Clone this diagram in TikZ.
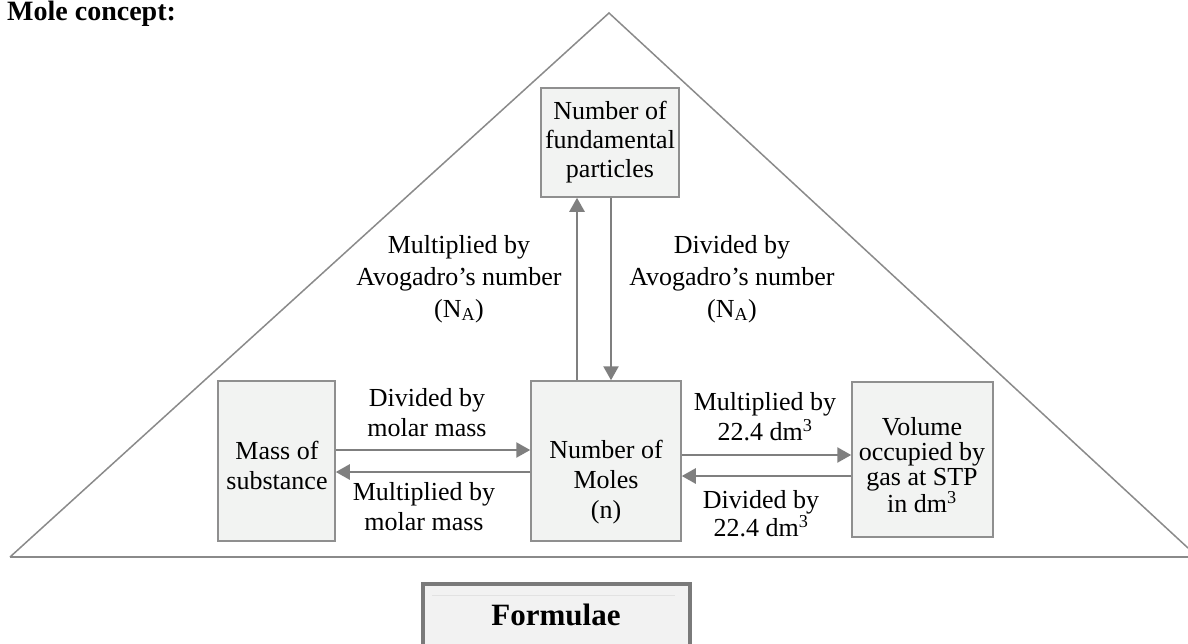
\documentclass[tikz,border=0pt]{standalone}
\usepackage{fontspec}
\setmainfont{Liberation Serif}
\usetikzlibrary{arrows.meta}
\definecolor{boxfill}{HTML}{F2F3F2}
\definecolor{boxline}{HTML}{8F8F8F}
\definecolor{arrgray}{HTML}{7F7F7F}
\definecolor{trigray}{HTML}{8A8A8A}
\definecolor{fline}{HTML}{7A7A7A}
\definecolor{ffill}{HTML}{F2F2F2}
\definecolor{finner}{HTML}{E2E2E2}
\begin{document}
\begin{tikzpicture}[x=1pt,y=-1pt,
  box/.style={draw=boxline, fill=boxfill, line width=1.5pt, inner sep=0pt},
  lbl/.style={align=center, inner sep=0pt, font=\fontsize{26}{30}\selectfont},
  arr/.style={draw=arrgray, line width=2.5pt, -{Triangle[length=14pt,width=15pt]}},
  tri/.style={draw=trigray, line width=1.5pt}]
\useasboundingbox (0,0) rectangle (1188,643);
% title
\node[anchor=base west, inner sep=0pt, font=\bfseries\fontsize{28}{30}\selectfont] (title) at (7,20) {Mole concept:};
% triangle
\coordinate (apex) at (609,13);
\coordinate (bl) at (10,557);
\coordinate (br) at (1188,557);
\coordinate (rs) at (1188,548);
\draw[tri] (bl) -- (apex) -- (rs);
\draw[tri] (bl) -- (br);
% boxes
\node[box, minimum width=138pt, minimum height=109pt] (top) at (610,142.5) {};
\node[box, minimum width=117pt, minimum height=160pt] (mass) at (276.5,461) {};
\node[box, minimum width=150pt, minimum height=160pt] (moles) at (606,461) {};
\node[box, minimum width=141pt, minimum height=155pt] (vol) at (922.5,459.5) {};
% box texts
\node[lbl, font=\fontsize{26}{29}\selectfont] (toptxt) at (610,142) {Number of\\fundamental\\particles};
\node[lbl] (masstxt) at (277,465) {Mass of\\substance};
\node[lbl] (molestxt) at (606,482) {Number of\\Moles\\(n)};
\node[lbl, font=\fontsize{26}{25}\selectfont] (voltxt) at (922,465) {Volume\\occupied by\\gas at STP\\in dm\textsuperscript{3}};
% arrows
\draw[arr] (moles.north -| 577,0) -- (top.south -| 577,0);
\draw[arr] (top.south -| 611,0) -- (moles.north -| 611,0);
\draw[arr] (mass.east |- 0,450) -- (moles.west |- 0,450);
\draw[arr] (moles.west |- 0,472) -- (mass.east |- 0,472);
\draw[arr] (moles.east |- 0,455) -- (vol.west |- 0,455);
\draw[arr] (vol.west |- 0,476) -- (moles.east |- 0,476);
% labels
\node[lbl, font=\fontsize{26}{32}\selectfont] (lavo) at (459,279) {Multiplied by\\Avogadro’s number\\(N\textsubscript{A})};
\node[lbl, font=\fontsize{26}{32}\selectfont] (ravo) at (732,279) {Divided by\\Avogadro’s number\\(N\textsubscript{A})};
\node[lbl] (dmm) at (427,413) {Divided by\\molar mass};
\node[lbl] (mmm) at (424,507) {Multiplied by\\molar mass};
\node[lbl] (mdm) at (765,417) {Multiplied by\\22.4 dm\textsuperscript{3}};
\node[lbl, font=\fontsize{26}{28}\selectfont] (ddm) at (761,514) {Divided by\\22.4 dm\textsuperscript{3}};
% formulae box
\node[draw=fline, fill=ffill, line width=4pt, minimum width=267pt, minimum height=80pt, inner sep=0pt] (fbox) at (556.5,624) {};
\coordinate (fl1) at (432,595);
\coordinate (fl2) at (675,595);
\draw[finner, line width=1pt] (fl1) -- (fl2);
\node[anchor=base, inner sep=0pt, font=\bfseries\fontsize{31}{34}\selectfont] (ftxt) at (556,625) {Formulae};
\end{tikzpicture}
\end{document}
